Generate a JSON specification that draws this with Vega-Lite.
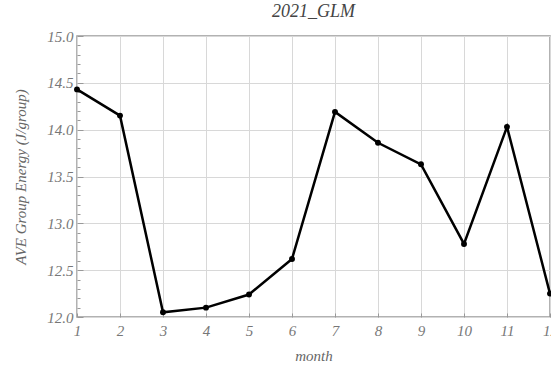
{
  "$schema": "https://vega.github.io/schema/vega-lite/v6.json",
  "width": 473,
  "height": 281,
  "autosize": {"type": "none"},
  "padding": {"left": 77, "top": 36, "right": 1, "bottom": 50},
  "background": "white",
  "title": {"text": "2021_GLM", "font": "Liberation Serif", "fontStyle": "italic", "fontWeight": "normal", "fontSize": 18, "color": "#444", "offset": 8, "anchor": "middle"},
  "config": {
    "view": {"stroke": "#999", "strokeWidth": 1.5},
    "axis": {"labelFont": "Liberation Serif", "labelFontStyle": "italic", "labelFontSize": 15, "labelColor": "#777", "titleFont": "Liberation Serif", "titleFontStyle": "italic", "titleFontWeight": "normal", "titleFontSize": 15, "titleColor": "#666", "gridColor": "#d8d8d8", "gridWidth": 1, "domain": false, "tickColor": "#999"}
  },
  "data": {"values": [
    {"month": 1, "energy": 14.43},
    {"month": 2, "energy": 14.15},
    {"month": 3, "energy": 12.05},
    {"month": 4, "energy": 12.10},
    {"month": 5, "energy": 12.24},
    {"month": 6, "energy": 12.62},
    {"month": 7, "energy": 14.19},
    {"month": 8, "energy": 13.86},
    {"month": 9, "energy": 13.63},
    {"month": 10, "energy": 12.78},
    {"month": 11, "energy": 14.03},
    {"month": 12, "energy": 12.25}
  ]},
  "resolve": {"axis": {"y": "independent"}},
  "layer": [
    {
      "mark": {"type": "line", "color": "black", "strokeWidth": 2.5, "point": {"filled": true, "color": "black", "size": 35}},
      "encoding": {
        "x": {"field": "month", "type": "quantitative", "scale": {"domain": [1, 12], "nice": false}, "axis": {"values": [1,2,3,4,5,6,7,8,9,10,11,12], "format": "d", "title": "month", "tickSize": -4, "labelPadding": 10, "titlePadding": 10, "labelFlush": false}},
        "y": {"field": "energy", "type": "quantitative", "scale": {"domain": [12, 15], "nice": false, "zero": false}, "axis": {"orient": "left", "values": [12, 12.5, 13, 13.5, 14, 14.5, 15], "format": ".1f", "title": "AVE Group Energy (J/group)", "tickSize": -6, "labelPadding": 10, "titlePadding": 18, "labelFlush": false}}
      }
    },
    {
      "mark": {"type": "point", "opacity": 0},
      "encoding": {
        "x": {"field": "month", "type": "quantitative"},
        "y": {"field": "energy", "type": "quantitative", "axis": {"orient": "left", "values": [12.1,12.2,12.3,12.4,12.6,12.7,12.8,12.9,13.1,13.2,13.3,13.4,13.6,13.7,13.8,13.9,14.1,14.2,14.3,14.4,14.6,14.7,14.8,14.9], "labels": false, "grid": false, "title": null, "tickSize": -3}}
      }
    }
  ]
}
